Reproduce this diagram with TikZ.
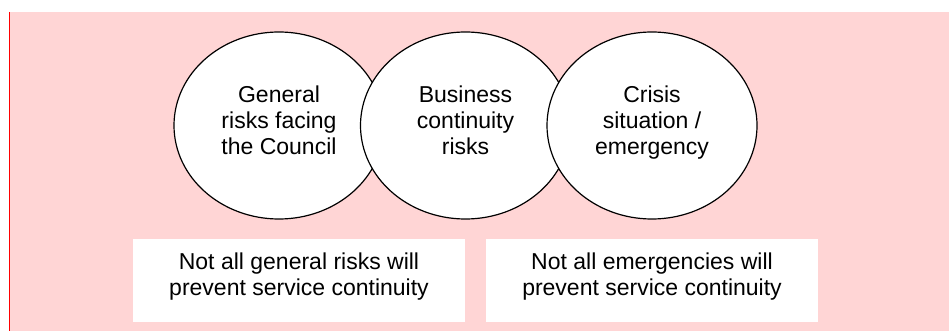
\documentclass[tikz,border=0pt]{standalone}
\usepackage{fontspec}
\setmainfont{Liberation Sans}
\usetikzlibrary{shapes.geometric}
\definecolor{bgPink}{RGB}{255,213,213}
\definecolor{edgeRed}{RGB}{255,0,0}
\newcommand{\riskFont}[0]{\fontsize{23}{26}\selectfont}

\begin{document}
\begin{tikzpicture}[x=1pt, y=-1pt]
  \tikzset{risk set/.style={ellipse, draw=black, line width=1.2pt, fill=white,
      minimum width=210pt, minimum height=187pt, inner sep=0pt, align=center,
      text height=65pt, text depth=6pt, font=\riskFont},
    note box/.style={fill=white, minimum width=332pt, minimum height=83pt,
      inner sep=0pt, align=center, text height=36pt, text depth=6pt,
      font=\riskFont}}
  \useasboundingbox (0,0) rectangle (949,331);
  \fill[bgPink] (9,12) rectangle (949,331);
  \draw[edgeRed, line width=1.4pt] (9.5,12) -- (9.5,331);
  \node[risk set] (general) at (279,125.5) {General\\risks facing\\the Council};
  \node[risk set] (business) at (465.5,125.5) {Business\\continuity\\risks};
  \node[risk set] (crisis) at (652,125.5) {Crisis\\situation /\\emergency};
  \node[note box] (notGeneral) at (299,280.5) {Not all general risks will\\prevent service continuity};
  \node[note box] (notEmergency) at (652,280.5) {Not all emergencies will\\prevent service continuity};
\end{tikzpicture}
\end{document}
